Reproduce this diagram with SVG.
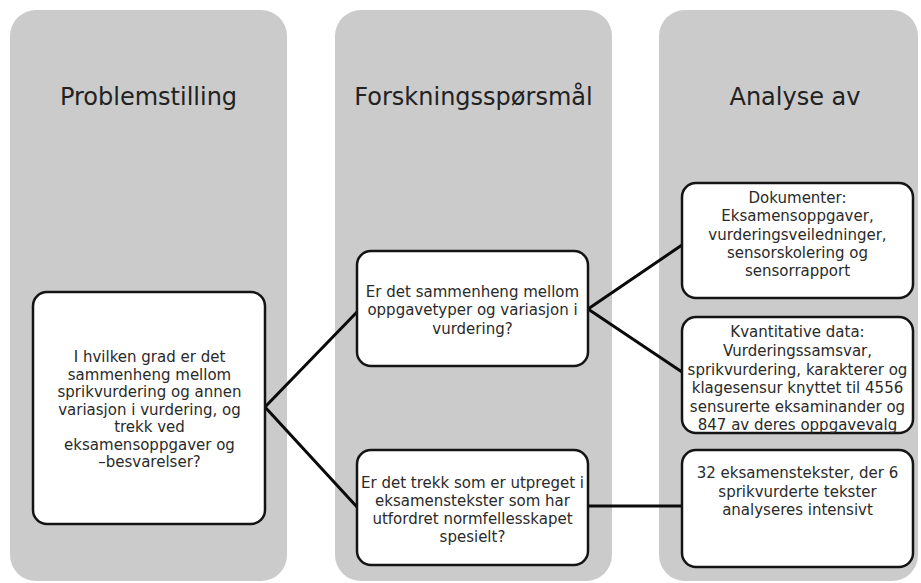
<svg xmlns="http://www.w3.org/2000/svg" width="921" height="583" viewBox="0 0 921 583">
<style>
.panel{fill:#cbcbcb;}
.box{fill:#ffffff;stroke:#141414;stroke-width:2.5;}
.title{font-family:"DejaVu Sans",sans-serif;font-size:24px;fill:#222;text-anchor:middle;}
.t{font-family:"DejaVu Sans",sans-serif;font-size:15px;fill:#2a2a2a;text-anchor:middle;}
.conn{stroke:#0a0a0a;stroke-width:3;fill:none;}
</style>
<rect width="921" height="583" fill="#ffffff"/>
<g id="panel-problemstilling">
<rect class="panel" x="10" y="10" width="277" height="571" rx="26"/>
<text class="title" x="148.5" y="105">Problemstilling</text>
</g>
<g id="panel-forskningssporsmal">
<rect class="panel" x="335" y="10" width="277" height="571" rx="26"/>
<text class="title" x="473.5" y="105">Forskningsspørsmål</text>
</g>
<g id="panel-analyse">
<rect class="panel" x="659" y="10" width="259" height="571" rx="26"/>
<text class="title" x="795" y="105">Analyse av</text>
</g>
<g id="connectors">
<polyline class="conn" points="357,312 265,407 357,507"/>
<polyline class="conn" points="682,245 588,309 682,372"/>
<line class="conn" x1="588" y1="506" x2="682" y2="506" stroke-width="2.2"/>
</g>
<g id="node-problem">
<rect class="box" x="33" y="292" width="232" height="232" rx="14"/>
<text class="t" x="149.5" y="362">I hvilken grad er det</text>
<text class="t" x="149.5" y="379.5">sammenheng mellom</text>
<text class="t" x="149.5" y="397">sprikvurdering og annen</text>
<text class="t" x="149.5" y="414.5">variasjon i vurdering, og</text>
<text class="t" x="149.5" y="432">trekk ved</text>
<text class="t" x="149.5" y="449.5">eksamensoppgaver og</text>
<text class="t" x="149.5" y="467">–besvarelser?</text>
</g>
<g id="node-rq1">
<rect class="box" x="357" y="251" width="231" height="115" rx="14"/>
<text class="t" x="472.5" y="297">Er det sammenheng mellom</text>
<text class="t" x="472.5" y="315">oppgavetyper og variasjon i</text>
<text class="t" x="472.5" y="334">vurdering?</text>
</g>
<g id="node-rq2">
<rect class="box" x="357" y="450" width="231" height="115" rx="14"/>
<text class="t" x="472.5" y="488">Er det trekk som er utpreget i</text>
<text class="t" x="472.5" y="506">eksamenstekster som har</text>
<text class="t" x="472.5" y="524">utfordret normfellesskapet</text>
<text class="t" x="472.5" y="542">spesielt?</text>
</g>
<g id="node-dokumenter">
<rect class="box" x="682" y="183" width="231" height="115" rx="14"/>
<text class="t" x="797.5" y="203">Dokumenter:</text>
<text class="t" x="797.5" y="221">Eksamensoppgaver,</text>
<text class="t" x="797.5" y="239.5">vurderingsveiledninger,</text>
<text class="t" x="797.5" y="258">sensorskolering og</text>
<text class="t" x="797.5" y="276">sensorrapport</text>
</g>
<g id="node-kvantitative">
<rect class="box" x="682" y="317" width="231" height="116" rx="14"/>
<text class="t" x="797.5" y="337">Kvantitative data:</text>
<text class="t" x="797.5" y="356">Vurderingssamsvar,</text>
<text class="t" x="797.5" y="374.5">sprikvurdering, karakterer og</text>
<text class="t" x="797.5" y="393">klagesensur knyttet til 4556</text>
<text class="t" x="797.5" y="412">sensurerte eksaminander og</text>
<text class="t" x="797.5" y="430">847 av deres oppgavevalg</text>
</g>
<g id="node-tekster">
<rect class="box" x="682" y="450" width="231" height="117" rx="14"/>
<text class="t" x="797.5" y="478">32 eksamenstekster, der 6</text>
<text class="t" x="797.5" y="497">sprikvurderte tekster</text>
<text class="t" x="797.5" y="515">analyseres intensivt</text>
</g>
</svg>
